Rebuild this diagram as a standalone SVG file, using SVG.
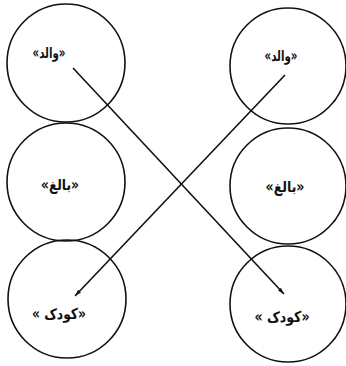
<svg xmlns="http://www.w3.org/2000/svg" width="346" height="366" viewBox="0 0 346 366">
<style>
.n{fill:none;stroke:#111;stroke-width:1.6}
.t{font-family:"DejaVu Sans","Noto Sans",sans-serif;font-weight:bold;font-size:15px;fill:#111;text-anchor:middle}
.c{stroke:#111;stroke-width:1.6;fill:none}
</style>
<defs>
<marker id="ah" viewBox="0 0 10 6" refX="10" refY="3" markerWidth="7" markerHeight="4" orient="auto" markerUnits="userSpaceOnUse">
<path d="M0,0 L10,3 L0,6 z" fill="#111"/>
</marker>
</defs>
<rect width="346" height="366" fill="#fff"/>
<g id="left-parent"><circle class="n" cx="66" cy="63" r="59"/><text class="t" x="49" y="58" textLength="33" lengthAdjust="spacingAndGlyphs">«والد»</text></g>
<g id="left-adult"><circle class="n" cx="66" cy="182" r="59"/><text class="t" x="60" y="190" textLength="38" lengthAdjust="spacingAndGlyphs">«بالغ»</text></g>
<g id="left-child"><circle class="n" cx="67" cy="299" r="59"/><text class="t" x="59" y="319" textLength="54" lengthAdjust="spacingAndGlyphs">« کودک»</text></g>
<g id="right-parent"><circle class="n" cx="288" cy="66" r="58"/><text class="t" x="281" y="61" textLength="33" lengthAdjust="spacingAndGlyphs">«والد»</text></g>
<g id="right-adult"><circle class="n" cx="288" cy="186" r="58"/><text class="t" x="285" y="192" textLength="39" lengthAdjust="spacingAndGlyphs">«بالغ»</text></g>
<g id="right-child"><circle class="n" cx="288" cy="304" r="58"/><text class="t" x="282" y="322" textLength="55" lengthAdjust="spacingAndGlyphs">« کودک»</text></g>
<g id="connectors">
<line class="c" x1="73" y1="68" x2="284" y2="294" marker-end="url(#ah)"/>
<line class="c" x1="285" y1="75" x2="75" y2="296" marker-end="url(#ah)"/>
</g>
</svg>
